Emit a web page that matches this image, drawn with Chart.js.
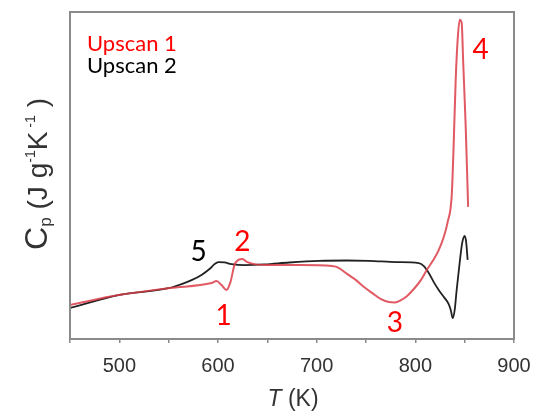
<!DOCTYPE html>
<html>
<head>
<meta charset="utf-8">
<script src="https://cdn.jsdelivr.net/npm/chart.js@4"></script>
<style>
  html, body { margin: 0; padding: 0; background: #fff; }
  canvas { display: block; }
</style>
</head>
<body>
<canvas id="cp" width="535" height="413"></canvas>
<script>
// Heat capacity traces (arbitrary units) against temperature in K
const tempUp1 = [450, 500.5, 551, 593.4, 598.5, 603.5, 608.6, 612.6, 616.7, 620.7, 624.7, 629.8, 636.9, 655, 682.3, 715.7, 722.7, 730.8, 739.9, 748, 756.1, 765.2, 773.2, 779.3, 785.4, 791.4, 798.5, 805.6, 811.6, 817.7, 823.7, 828.8, 832.8, 836.9, 838.9, 840.9, 843, 845, 847, 848.5, 851, 853, 853.5];
const cpUp1   = [1.04, 1.35, 1.56, 1.71, 1.77, 1.65, 1.50, 1.74, 2.26, 2.42, 2.45, 2.35, 2.29, 2.26, 2.26, 2.23, 2.17, 1.99, 1.80, 1.59, 1.41, 1.22, 1.13, 1.12, 1.19, 1.31, 1.53, 1.80, 2.11, 2.39, 2.72, 3.12, 3.58, 4.40, 5.99, 7.92, 9.20, 9.76, 9.66, 8.47, 6.54, 4.56, 4.04];

const tempUp2 = [450, 500.5, 551, 563.1, 573.2, 583.3, 591.4, 596.5, 600.5, 606.6, 613.6, 626.8, 647, 672.2, 702.5, 730.8, 753, 781.3, 803.5, 808.6, 813.6, 818.7, 823.7, 829.8, 833.8, 835.9, 837.9, 839.9, 841.9, 845, 847.5, 850, 851.5, 853];
const cpUp2   = [0.95, 1.35, 1.56, 1.68, 1.80, 1.96, 2.14, 2.29, 2.35, 2.34, 2.29, 2.26, 2.28, 2.34, 2.39, 2.40, 2.39, 2.35, 2.32, 2.23, 2.02, 1.74, 1.50, 1.25, 1.07, 0.89, 0.64, 0.89, 1.50, 2.35, 2.94, 3.15, 2.97, 2.42];

const xTicks = [500, 600, 700, 800, 900];

// Numbered event markers: text, temperature, Cp, colour
const markerText = ['1', '2', '3', '4', '5'];
const markerTemp = [605.6, 624.7, 779.3, 866.2, 580.3];
const markerCp   = [0.70, 2.97, 0.49, 8.84, 2.66];
const markerColor = ['#ff0000', '#ff0000', '#ff0000', '#ff0000', '#000000'];

const legendText = ['Upscan 1', 'Upscan 2'];
const legendColor = ['#ff0000', '#000000'];

const toPoints = (xs, ys) => xs.map((x, i) => ({ x, y: ys[i] }));

const SANS = '"Liberation Sans", Arial, sans-serif';
const LABEL = 'Lato, "Open Sans", sans-serif';

const decorations = {
  id: 'decorations',
  afterDraw(chart) {
    const { ctx, chartArea: a, scales } = chart;
    ctx.save();

    // plot frame
    ctx.strokeStyle = '#8a8a8a';
    ctx.lineWidth = 2;
    ctx.strokeRect(a.left, a.top, a.right - a.left, a.bottom - a.top);

    // numbered markers
    ctx.font = '28px ' + LABEL;
    ctx.textAlign = 'center';
    ctx.textBaseline = 'middle';
    markerText.forEach((t, i) => {
      ctx.fillStyle = markerColor[i];
      ctx.fillText(t, scales.x.getPixelForValue(markerTemp[i]), scales.y.getPixelForValue(markerCp[i]));
    });

    // series key
    ctx.font = '22px ' + LABEL;
    ctx.textAlign = 'left';
    ctx.textBaseline = 'alphabetic';
    legendText.forEach((t, i) => {
      ctx.fillStyle = legendColor[i];
      ctx.fillText(t, a.left + 17, a.top + 39 + i * 22);
    });

    // x title: italic T followed by unit
    ctx.fillStyle = '#333';
    const f1 = 'italic 23px ' + SANS, f2 = '23px ' + SANS;
    ctx.font = f1; const wT = ctx.measureText('T').width;
    ctx.font = f2; const wU = ctx.measureText(' (K)').width;
    const cx = (a.left + a.right) / 2 + 1;
    let x0 = cx - (wT + wU) / 2;
    ctx.font = f1; ctx.fillText('T', x0, 406);
    ctx.font = f2; ctx.fillText(' (K)', x0 + wT, 406);

    // y title: Cp (J g-1 K-1), rotated
    const parts = [
      { t: 'C', size: 32, dy: 0 },
      { t: 'p', size: 17, dy: 4 },
      { t: ' (J g', size: 28, dy: 0 },
      { t: '-1', size: 14, dy: -12 },
      { t: 'K', size: 28, dy: 0 },
      { t: ' -1', size: 14, dy: -12 },
      { t: ' )', size: 28, dy: 0 }
    ];
    let total = 0;
    parts.forEach(p => { ctx.font = p.size + 'px ' + SANS; p.w = ctx.measureText(p.t).width; total += p.w; });
    const targetLen = 152;
    ctx.translate(47, 174);
    ctx.rotate(-Math.PI / 2);
    ctx.scale(targetLen / total, 1);
    let px = -total / 2;
    parts.forEach(p => {
      ctx.font = p.size + 'px ' + SANS;
      ctx.fillText(p.t, px, p.dy);
      px += p.w;
    });

    ctx.restore();
  }
};

new Chart(document.getElementById('cp'), {
  type: 'line',
  data: {
    datasets: [
      {
        label: 'Upscan 1',
        data: toPoints(tempUp1, cpUp1),
        borderColor: 'rgba(218, 60, 72, 0.85)',
        borderWidth: 2,
        pointRadius: 0,
        cubicInterpolationMode: 'monotone',
        fill: false
      },
      {
        label: 'Upscan 2',
        data: toPoints(tempUp2, cpUp2),
        borderColor: '#222222',
        borderWidth: 1.8,
        pointRadius: 0,
        cubicInterpolationMode: 'monotone',
        fill: false
      }
    ]
  },
  options: {
    responsive: false,
    animation: false,
    devicePixelRatio: 1,
    layout: { padding: { left: 70, right: 21, top: 12, bottom: 0 } },
    plugins: { legend: { display: false }, tooltip: { enabled: false } },
    scales: {
      x: {
        type: 'linear',
        min: 450,
        max: 900,
        border: { display: false },
        grid: { drawOnChartArea: false, drawTicks: true, tickLength: 4, color: '#8a8a8a', lineWidth: 1.5 },
        ticks: {
          stepSize: 50,
          autoSkip: false,
          maxRotation: 0,
          padding: 11,
          color: '#333',
          font: { family: SANS, size: 20 },
          callback: v => (xTicks.includes(v) ? String(v) : '')
        },
        afterFit: s => { s.height = 74; s.paddingLeft = 0; s.paddingRight = 0; }
      },
      y: {
        display: false,
        min: 0,
        max: 10
      }
    }
  },
  plugins: [decorations]
});
</script>
</body>
</html>
